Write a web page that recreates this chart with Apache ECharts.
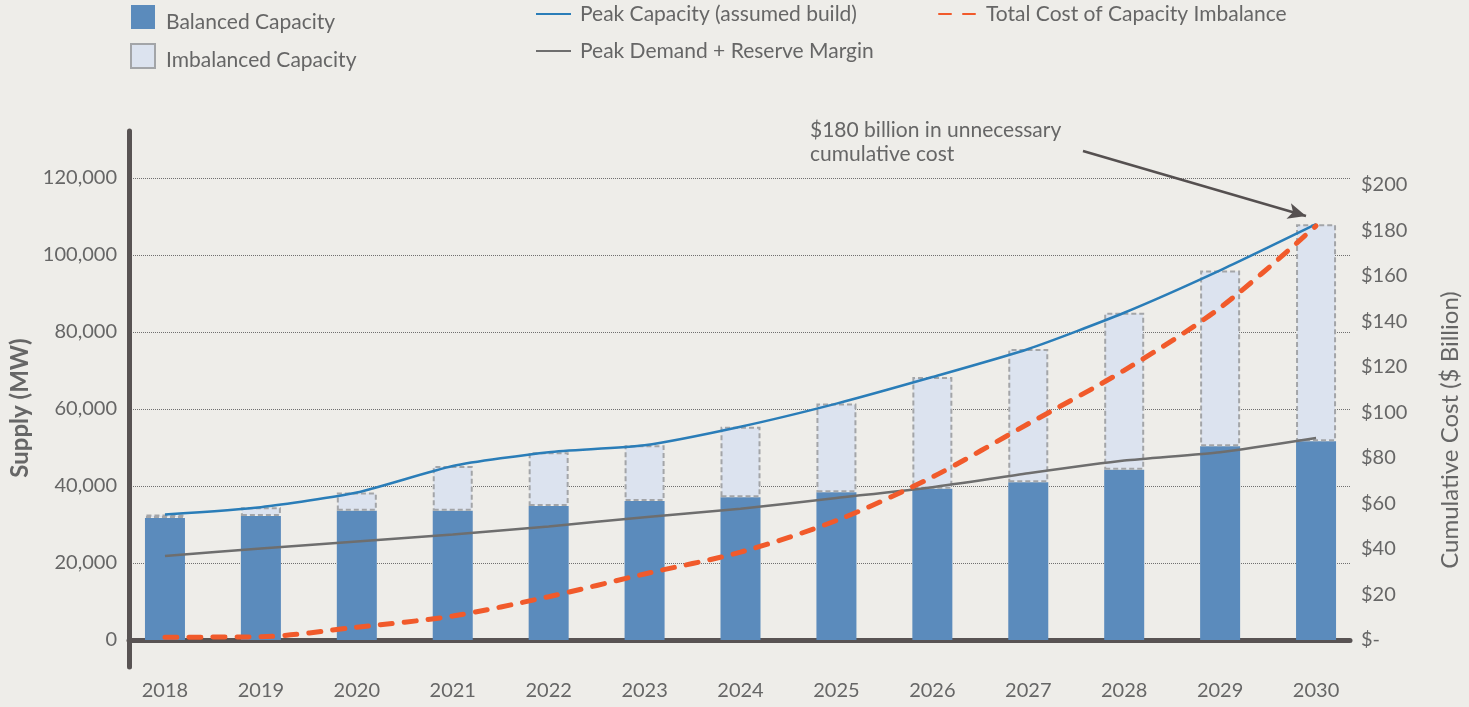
<!DOCTYPE html>
<html>
<head>
<meta charset="utf-8">
<title>Capacity Imbalance</title>
<script src="https://cdn.jsdelivr.net/npm/echarts@6/dist/echarts.min.js"></script>
<style>
  html, body { margin: 0; padding: 0; background: #eeede9; }
  #chart { width: 1469px; height: 707px; }
</style>
</head>
<body>
<div id="chart"></div>
<script>
// Years on the horizontal axis
const years = [2018, 2019, 2020, 2021, 2022, 2023, 2024, 2025, 2026, 2027, 2028, 2029, 2030];
// Supply (MW)
const balancedMW     = [31700, 32200, 33600, 33600, 34800, 36100, 37100, 38400, 39300, 41000, 44200, 50300, 51600];
const peakCapacityMW = [32600, 34500, 38300, 45200, 48800, 50600, 55400, 61400, 68300, 75600, 85000, 96000, 108000];
const peakDemandMW   = [21800, 23800, 25600, 27400, 29500, 31900, 34100, 36900, 39700, 43300, 46600, 48800, 52500];
// Cumulative cost ($ billion)
const cumulativeCostB = [1.2, 1.4, 5.6, 10.5, 19, 29, 38.6, 52.5, 71.6, 95, 118.5, 146, 182];
// Tick labels
const supplyTicks = [0, 20000, 40000, 60000, 80000, 100000, 120000];
const costTicks = [0, 20, 40, 60, 80, 100, 120, 140, 160, 180, 200];

const FONT = 'Lato, "Noto Sans", sans-serif';
const TXT = '#666666';

// [year, value] pairs for the lines
const pairs = (vals) => years.map((y, i) => [y, vals[i]]);
// [value, year] pairs for the stacked bars (value dimension first so it is the stacked one)
const barPairs = (vals) => years.map((y, i) => [vals[i], y]);
const imbalancedMW = peakCapacityMW.map((v, i) => v - balancedMW[i]);

const chart = echarts.init(document.getElementById('chart'), null, { renderer: 'canvas' });

const legendText = { fontFamily: FONT, fontSize: 21, color: TXT, lineHeight: 24 };
const hiddenIcon = { color: 'rgba(0,0,0,0)', borderColor: 'rgba(0,0,0,0)', borderWidth: 0 };
const barNames = ['Balanced Capacity', 'Imbalanced Capacity'];

chart.setOption({
  animation: false,
  backgroundColor: '#eeede9',
  textStyle: { fontFamily: FONT },
  title: {
    text: '$180 billion in unnecessary\ncumulative cost',
    left: 810, top: 118, padding: 0,
    textStyle: { fontFamily: FONT, fontSize: 21, fontWeight: 'normal', color: TXT, lineHeight: 24 }
  },
  legend: [
    // bar swatches
    {
      data: barNames,
      orient: 'vertical', left: 130, top: 5, padding: 0,
      icon: 'rect',
      itemWidth: 24, itemHeight: 24, itemGap: 14,
      formatter: () => '',
      textStyle: legendText
    },
    // bar labels, sitting a little lower than the swatches
    {
      data: barNames,
      orient: 'vertical', left: 130, top: 10, padding: 0,
      icon: 'rect',
      itemWidth: 24, itemHeight: 24, itemGap: 14,
      itemStyle: hiddenIcon,
      textStyle: Object.assign({ padding: [0, 0, 0, 7] }, legendText)
    },
    {
      data: ['Peak Capacity (assumed build)', 'Peak Demand + Reserve Margin'],
      orient: 'vertical', left: 535, top: 2, padding: 0,
      itemWidth: 35, itemHeight: 14, itemGap: 13,
      itemStyle: hiddenIcon,
      textStyle: Object.assign({ padding: [0, 0, 0, 4] }, legendText)
    },
    {
      data: ['Total Cost of Capacity Imbalance'],
      orient: 'vertical', left: 938, top: 2, padding: 0,
      itemWidth: 40, itemHeight: 14,
      itemStyle: hiddenIcon,
      textStyle: Object.assign({ padding: [0, 0, 0, 2] }, legendText)
    }
  ],
  grid: { left: 129, right: 119, top: 131, bottom: 40, outerBoundsMode: 'none', containLabel: false },
  xAxis: {
    type: 'value',
    min: 2017.625, max: 2030.354,
    axisLine: { show: true, onZero: true, onZeroAxisIndex: 0, lineStyle: { color: '#585353', width: 5 } },
    axisTick: { show: false },
    splitLine: { show: false },
    axisLabel: {
      customValues: years,
      color: TXT, fontSize: 20, fontFamily: FONT, margin: 14,
      formatter: (v) => String(v)
    }
  },
  yAxis: [
    {
      type: 'value',
      min: -7000, max: 132200, splitNumber: 7,
      position: 'left',
      name: 'Supply (MW)', nameLocation: 'middle', nameGap: 94,
      nameTextStyle: { fontFamily: FONT, fontSize: 24, fontWeight: 'bold', color: TXT, padding: [0, 18, 0, 0] },
      axisLine: { show: true, onZero: false, lineStyle: { color: '#585353', width: 5 } },
      axisTick: { show: false },
      axisLabel: {
        customValues: supplyTicks,
        color: TXT, fontSize: 20, fontFamily: FONT, margin: 12,
        formatter: (v) => v.toLocaleString('en-US')
      },
      splitLine: {
        show: true, showMinLine: false, showMaxLine: false,
        lineStyle: { color: '#6f6f6f', type: 'dotted', width: 1 }
      }
    },
    {
      type: 'value',
      min: -11.9, max: 223.7,
      position: 'right',
      name: 'Cumulative Cost ($ Billion)', nameLocation: 'middle', nameGap: 88,
      nameTextStyle: { fontFamily: FONT, fontSize: 24, fontWeight: 'normal', color: TXT, padding: [0, 62, 0, 0] },
      axisLine: { show: false },
      axisTick: { show: false },
      splitLine: { show: false },
      axisLabel: {
        customValues: costTicks,
        color: TXT, fontSize: 20, fontFamily: FONT, margin: 11,
        formatter: (v) => (v === 0 ? '$-' : '$' + v)
      }
    }
  ],
  series: [
    {
      name: 'Balanced Capacity',
      type: 'bar', stack: 'capacity', barWidth: 40,
      encode: { x: 1, y: 0 },
      itemStyle: { color: '#5b8bbc' },
      data: barPairs(balancedMW)
    },
    {
      name: 'Imbalanced Capacity',
      type: 'bar', stack: 'capacity', barWidth: 40,
      encode: { x: 1, y: 0 },
      itemStyle: { color: '#dce3ef', borderColor: '#a3a5a8', borderWidth: 2, borderType: [5, 3] },
      data: barPairs(imbalancedMW)
    },
    {
      name: 'Peak Demand + Reserve Margin',
      type: 'line', symbol: 'none', smooth: 0.2,
      lineStyle: { color: '#6e6e6e', width: 2.5 },
      itemStyle: { color: '#6e6e6e' },
      data: pairs(peakDemandMW)
    },
    {
      name: 'Peak Capacity (assumed build)',
      type: 'line', symbol: 'none', smooth: 0.2,
      lineStyle: { color: '#2a7db8', width: 2.5 },
      itemStyle: { color: '#2a7db8' },
      data: pairs(peakCapacityMW)
    },
    {
      name: 'Total Cost of Capacity Imbalance',
      type: 'line', yAxisIndex: 1, symbol: 'none', smooth: 0.3,
      lineStyle: { color: '#f15a2b', width: 5, type: [12, 12], cap: 'round' },
      itemStyle: { color: '#f15a2b' },
      data: pairs(cumulativeCostB),
      markLine: {
        silent: true,
        symbol: ['none', 'arrow'],
        symbolSize: [12, 18],
        lineStyle: { color: '#555050', width: 2.5, type: 'solid' },
        label: { show: false },
        emphasis: { disabled: true },
        data: [[{ x: 1083, y: 151 }, { x: 1306, y: 216 }]]
      }
    }
  ]
});
</script>
</body>
</html>
